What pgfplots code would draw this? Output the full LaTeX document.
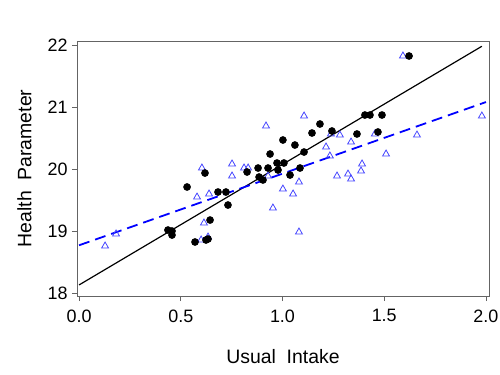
\documentclass[border=0pt]{standalone}
\usepackage{pgfplots}
\pgfplotsset{compat=1.18}
\usepackage{fontspec}
\setmainfont{Liberation Sans}
\definecolor{tri}{RGB}{70,70,255}
\definecolor{frame}{RGB}{100,100,100}
\begin{document}
\begin{tikzpicture}
\path[use as bounding box] (-77bp,-79bp) rectangle (423bp,296bp);
\begin{axis}[
  at={(0,0)}, anchor=south west,
  scale only axis, width=412bp, height=255bp,
  xmin=-0.01, xmax=2.015, ymin=17.952, ymax=22.065,
  axis line style={frame, line width=0.9pt},
  xtick={0,0.5,1,1.5,2}, ytick={18,19,20,21,22},
  xticklabels={0.0,0.5,1.0,1.5,2.0},
  tick align=outside, tick pos=left,
  major tick length=5bp,
  every tick/.style={frame, line width=0.9pt},
  /pgf/number format/assume math mode=true,
  tick label style={font=\fontsize{18}{20}\selectfont},
  xticklabel style={yshift=-5bp},
  yticklabel style={xshift=-1bp},
  label style={font=\fontsize{19.5}{22}\selectfont},
  xlabel={Usual\ \ Intake}, ylabel={Health\ \ Parameter},
  xlabel style={at={(axis description cs:0.5,0)}, anchor=north, yshift=-50bp},
  ylabel style={at={(axis description cs:0,0.5)}, anchor=south, yshift=42bp},
  clip=false,
]
% black regression line
\addplot[black, line width=1.2pt] coordinates {(0,18.13) (1.98,21.98)};
% blue dashed regression line
\addplot[blue, line width=1.8pt, dash pattern=on 11bp off 6bp] coordinates {(0,18.77) (2.0,21.08)};
% triangles
\addplot[only marks, mark=triangle, mark size=4bp, tri, mark options={line width=0.8pt}] coordinates {
(1.592,21.823) (0.919,20.694) (1.106,20.855) (0.752,20.081) (0.604,20.016)
(0.811,20.016) (0.831,20.016) (1.238,20.565) (1.282,20.548) (1.454,20.565)
(1.214,20.355) (1.337,20.435) (1.233,20.210) (1.391,20.081) (1.386,19.968)
(1.509,20.242) (1.661,20.548) (1.980,20.855) (1.268,19.887) (1.322,19.919)
(1.337,19.839) (1.081,19.790) (1.002,19.677) (1.052,19.597) (1.081,18.984)
(0.929,19.887) (0.752,19.887) (0.580,19.548) (0.639,19.597) (0.614,19.129)
(0.600,18.855) (0.634,18.903) (0.128,18.758) (0.182,18.952) (0.953,19.371)
};
% circles
\addplot[only marks, mark=*, mark size=3.6bp, black] coordinates {
(1.622,21.823) (1.405,20.871) (1.430,20.871) (1.489,20.871) (1.184,20.726)
(1.145,20.581) (1.243,20.613) (1.366,20.565) (1.469,20.597) (1.002,20.468)
(1.061,20.387) (1.106,20.274) (0.939,20.242) (1.007,20.097) (0.973,20.097)
(1.086,20.016) (0.929,20.016) (0.880,20.016) (0.978,19.984) (1.037,19.903)
(0.904,19.823) (0.885,19.871) (0.826,19.952) (0.619,19.935) (0.531,19.710)
(0.683,19.629) (0.722,19.629) (0.732,19.419) (0.644,19.177) (0.437,19.016)
(0.457,19.000) (0.457,18.935) (0.570,18.823) (0.624,18.855) (0.634,18.871)
};
\end{axis}
\end{tikzpicture}
\end{document}
